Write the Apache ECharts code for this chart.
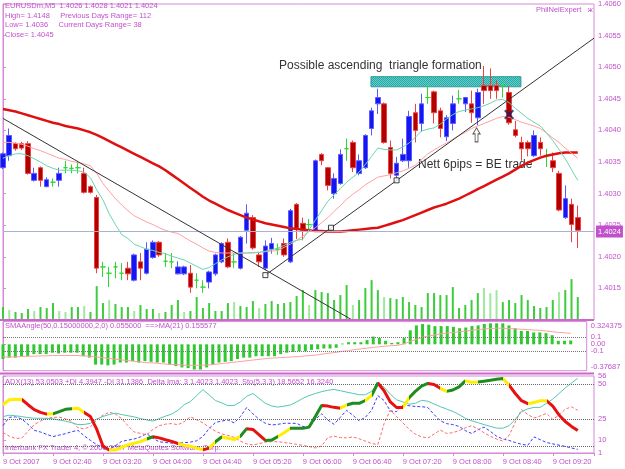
<!DOCTYPE html>
<html>
<head>
<meta charset="utf-8">
<title>EURUSDm,M5</title>
<script src="https://cdn.jsdelivr.net/npm/echarts@6/dist/echarts.min.js"></script>
<style>
html, body { margin: 0; padding: 0; background: #fff; }
#main { width: 625px; height: 469px; }
</style>
</head>
<body>
<div id="main"></div>
<script>
//time axis labels, one every 8 bars (40 minutes of M5)
var timeLabels = ['9 Oct 2007', '9 Oct 02:40', '9 Oct 03:20', '9 Oct 04:00', '9 Oct 04:40', '9 Oct 05:20',
    '9 Oct 06:00', '9 Oct 06:40', '9 Oct 07:20', '9 Oct 08:00', '9 Oct 08:40', '9 Oct 09:20'];

//prices in pips above 1.4000, bar 0 = 02:00
var openPips = [34.1, 36.0, 37.9, 37.9, 37.9, 32.1, 34.1, 31.1, 31.8, 32.1,
    34.1, 34.0, 34.1, 33.2, 31.1, 29.4, 18.4, 17.4, 18.4, 17.4,
    18.2, 16.3, 19.2, 17.4, 19.9, 22.3, 19.3, 19.2, 17.3, 17.3,
    17.4, 16.3, 15.2, 16.0, 17.3, 19.2, 22.3, 19.2, 18.2, 24.2,
    26.2, 20.3, 18.2, 21.2, 21.2, 22.1, 19.2, 28.3, 25.3, 25.1,
    24.2, 36.2, 34.1, 30.0, 31.6, 37.1, 38.1, 33.2, 34.1, 40.3,
    44.2, 44.2, 37.3, 32.9, 35.2, 35.2, 42.8, 41.1, 45.2, 46.1,
    43.1, 39.0, 41.1, 45.0, 44.2, 44.2, 42.0, 47.1, 47.1, 47.1,
    47.1, 46.0, 40.1, 38.1, 38.1, 36.0, 38.1, 36.0, 35.2, 33.2,
    26.2, 28.3, 26.2];
var highPips = [36.5, 40.3, 38.1, 38.2, 38.3, 34.1, 34.3, 32.6, 32.4, 34.1,
    35.2, 34.6, 35.2, 34.1, 31.3, 29.8, 19.2, 18.4, 19.2, 19.0,
    19.2, 20.5, 20.6, 22.3, 22.6, 22.5, 20.6, 20.6, 19.3, 18.6,
    18.7, 17.4, 16.3, 17.8, 20.5, 22.3, 22.9, 20.6, 23.3, 28.3,
    26.6, 20.8, 22.6, 23.0, 22.1, 22.9, 27.6, 28.5, 26.2, 26.0,
    35.4, 36.4, 34.2, 33.2, 37.0, 38.7, 38.4, 36.2, 39.4, 43.6,
    46.6, 44.4, 38.4, 35.8, 38.7, 43.1, 44.2, 45.8, 47.1, 46.3,
    43.6, 42.4, 45.5, 46.4, 45.3, 46.3, 46.6, 50.2, 49.8, 47.9,
    47.3, 47.0, 41.5, 39.0, 38.4, 40.0, 38.9, 37.1, 36.5, 33.6,
    31.3, 29.2, 28.1];
var lowPips = [33.9, 35.2, 36.8, 36.9, 33.0, 31.9, 31.1, 31.0, 31.1, 31.1,
    33.2, 33.2, 33.2, 30.0, 30.0, 17.4, 16.8, 15.2, 16.6, 16.3,
    16.3, 16.1, 16.3, 17.2, 19.7, 20.0, 18.4, 18.2, 17.2, 17.1,
    14.3, 15.0, 14.3, 15.0, 17.0, 19.0, 18.2, 18.2, 18.0, 22.1,
    21.1, 18.4, 17.9, 20.5, 20.3, 20.0, 19.0, 22.8, 22.6, 24.0,
    24.0, 34.5, 30.5, 29.2, 31.4, 35.2, 33.4, 32.9, 33.9, 39.2,
    42.6, 37.9, 32.4, 32.2, 35.0, 34.1, 38.1, 39.8, 44.2, 41.1,
    38.9, 38.3, 40.0, 44.2, 42.9, 41.2, 40.8, 44.2, 45.0, 45.0,
    45.2, 40.9, 38.9, 35.2, 35.9, 35.8, 36.0, 34.2, 33.4, 27.2,
    26.0, 22.3, 21.4];
var closePips = [36.3, 39.2, 37.1, 37.2, 33.2, 33.2, 32.1, 32.2, 31.8, 33.2,
    34.1, 34.0, 34.1, 30.2, 30.2, 18.2, 18.4, 17.4, 18.4, 17.4,
    17.3, 20.3, 18.2, 21.2, 22.3, 20.3, 19.3, 19.2, 18.4, 18.4,
    15.2, 16.3, 15.2, 17.6, 20.3, 22.1, 18.4, 19.2, 23.1, 26.9,
    21.4, 19.2, 21.7, 22.1, 21.2, 20.3, 27.3, 24.5, 24.2, 25.1,
    35.2, 35.2, 31.3, 32.4, 36.2, 37.1, 34.1, 35.2, 39.2, 43.1,
    45.2, 38.1, 33.2, 34.8, 36.2, 42.2, 40.0, 44.2, 45.2, 42.8,
    40.3, 42.0, 44.2, 45.0, 45.2, 42.8, 46.0, 46.3, 46.3, 46.3,
    47.1, 41.2, 39.2, 37.1, 37.1, 39.2, 37.1, 36.0, 34.1, 27.4,
    29.2, 25.1, 24.2];

//moving averages (pips)
var maSlow = [43.4, 43.2, 43.0, 42.7, 42.4, 42.1, 41.8, 41.5, 41.2, 41.0,
    40.7, 40.5, 40.3, 40.0, 39.7, 39.3, 38.8, 38.3, 37.8, 37.3,
    36.8, 36.3, 35.8, 35.3, 34.8, 34.3, 33.7, 33.0, 32.3, 31.6,
    30.9, 30.2, 29.5, 28.9, 28.4, 27.9, 27.4, 27.0, 26.6, 26.2,
    25.9, 25.6, 25.3, 25.1, 24.9, 24.7, 24.5, 24.4, 24.3, 24.2,
    24.1, 24.1, 24.0, 24.0, 24.0, 24.1, 24.2, 24.3, 24.4, 24.5,
    24.6, 24.9, 25.2, 25.5, 25.8, 26.2, 26.6, 27.0, 27.4, 27.8,
    28.1, 28.4, 28.8, 29.2, 29.7, 30.2, 30.7, 31.2, 31.7, 32.2,
    32.7, 33.2, 33.8, 34.4, 34.9, 35.3, 35.7, 36.0, 36.2, 36.4,
    36.5, 36.5, 36.5];
var maMid = [38.1, 38.1, 38.0, 37.8, 37.5, 37.1, 36.8, 36.4, 36.0, 35.6,
    35.4, 35.1, 34.9, 34.7, 34.4, 33.2, 31.6, 30.4, 29.2, 28.2,
    27.3, 26.5, 26.0, 25.5, 25.1, 24.6, 24.2, 23.9, 23.7, 23.1,
    22.5, 22.0, 21.4, 20.9, 20.7, 20.6, 20.6, 20.6, 20.6, 20.6,
    20.7, 20.7, 20.8, 20.9, 21.0, 21.5, 22.0, 22.6, 23.3, 24.0,
    24.6, 25.4, 26.2, 27.2, 28.1, 29.1, 29.9, 30.6, 31.4, 32.0,
    32.6, 32.8, 33.0, 33.3, 33.6, 34.0, 34.5, 35.4, 36.3, 36.9,
    37.5, 38.0, 38.6, 39.2, 39.7, 40.3, 40.7, 41.1, 41.5, 41.9,
    42.2, 42.1, 41.7, 41.3, 41.0, 40.7, 40.3, 39.6, 38.8, 38.1,
    37.2, 36.4, 35.6];
var maFast = [35.6, 36.0, 36.3, 36.3, 36.0, 35.5, 35.0, 34.4, 34.0, 33.7,
    33.7, 33.7, 33.6, 33.4, 32.5, 30.6, 29.0, 26.8, 25.1, 23.5,
    22.9, 22.0, 21.6, 21.2, 21.0, 20.7, 20.5, 20.1, 19.8, 19.5,
    19.0, 18.5, 18.0, 18.3, 18.9, 19.5, 20.0, 20.4, 20.6, 20.6,
    20.6, 20.7, 20.9, 21.1, 21.4, 21.8, 22.3, 22.6, 22.8, 24.3,
    25.8, 27.3, 28.8, 29.8, 30.8, 31.8, 32.6, 33.4, 34.6, 35.9,
    37.2, 37.0, 36.9, 36.9, 37.4, 38.0, 38.9, 39.9, 40.2, 40.4,
    41.0, 41.8, 42.5, 43.0, 43.2, 43.4, 43.6, 43.9, 44.3, 44.8,
    44.9, 44.4, 43.5, 42.7, 41.9, 41.3, 40.7, 39.6, 38.4, 37.0,
    35.5, 33.8, 32.1];

//tick volume
var volumes = [13, 10, 8, 7, 11, 9, 13, 12, 17, 9,
    8, 13, 13, 14, 8, 34, 17, 20, 16, 13,
    13, 9, 15, 11, 11, 7, 8, 15, 20, 8,
    9, 23, 12, 17, 9, 9, 17, 18, 14, 13,
    19, 12, 16, 19, 16, 17, 18, 24, 30, 15,
    30, 28, 27, 20, 25, 35, 15, 20, 32, 40,
    30, 23, 22, 21, 23, 18, 15, 13, 27, 27,
    25, 25, 33, 12, 15, 20, 27, 32, 27, 30,
    18, 20, 17, 25, 20, 14, 12, 13, 20, 28,
    30, 41, 23];
var lightVolumeBars = [1, 5, 9, 10, 13, 17, 21, 25, 29, 37, 41, 49, 56, 61, 77, 78, 79, 89];

//trendlines and marks [bar, pips]
var downTrend = [[0, 41.9], [55.9, 10.0]];
var upTrend = [[42, 17.1], [94.6, 54.6]];
var upTrendAnchors = [[42, 17.1], [52.5, 24.6], [63, 32.1]];
var triangleZone = [[58.9, 48.5], [82.9, 46.9]];
var exitMark = [[81, 42.5]];
var entryArrow = [[75.8, 39.3]];
var lastPrice = 24;

//SMAAngle window
var smaAngle = [-0.21, -0.19, -0.19, -0.17, -0.17, -0.14, -0.14, -0.14, -0.12, -0.13,
    -0.12, -0.12, -0.12, -0.17, -0.19, -0.29, -0.29, -0.30, -0.29, -0.26,
    -0.26, -0.24, -0.26, -0.24, -0.25, -0.26, -0.26, -0.29, -0.31, -0.33,
    -0.34, -0.36, -0.36, -0.33, -0.29, -0.26, -0.25, -0.24, -0.21, -0.19,
    -0.19, -0.17, -0.17, -0.17, -0.17, -0.14, -0.12, -0.11, -0.10, -0.10,
    -0.08, -0.07, -0.06, -0.06, -0.05, 0.01, 0.03, 0.03, 0.03, 0.06,
    0.11, 0.09, 0.05, 0.02, 0.03, 0.09, 0.20, 0.27, 0.29, 0.28,
    0.26, 0.26, 0.26, 0.25, 0.23, 0.24, 0.26, 0.27, 0.29, 0.30,
    0.30, 0.30, 0.27, 0.23, 0.19, 0.19, 0.17, 0.17, 0.16, 0.13,
    0.05, 0.05, 0.055];
var smaAngleMa = [-0.18, -0.18, -0.18, -0.175, -0.17, -0.17, -0.165, -0.165, -0.16, -0.16,
    -0.16, -0.16, -0.16, -0.165, -0.17, -0.18, -0.19, -0.20, -0.21, -0.22,
    -0.23, -0.24, -0.25, -0.26, -0.265, -0.27, -0.28, -0.285, -0.29, -0.295,
    -0.30, -0.30, -0.30, -0.295, -0.29, -0.28, -0.27, -0.26, -0.25, -0.24,
    -0.23, -0.22, -0.21, -0.20, -0.195, -0.19, -0.185, -0.18, -0.175, -0.165,
    -0.16, -0.15, -0.135, -0.125, -0.115, -0.10, -0.09, -0.075, -0.065, -0.055,
    -0.045, -0.035, -0.025, -0.02, -0.015, 0.01, 0.04, 0.07, 0.10, 0.12,
    0.135, 0.15, 0.16, 0.17, 0.18, 0.19, 0.20, 0.21, 0.22, 0.225,
    0.23, 0.23, 0.225, 0.22, 0.215, 0.21, 0.205, 0.20, 0.19, 0.18,
    0.17, 0.165, 0.156];
var smaTicks = [-0.37687, -0.1, 0, 0.1, 0.324375];
var smaTickLabels = ['-0.37687', '-0.1', '0.00', '0.1', '0.324375'];

//ADX / Stochastic window
var stochMain = [35.5, 39, 39.4, 39.2, 35.5, 32, 30, 28.8, 29, 30.5,
    32.2, 32.6, 32.9, 30, 27, 18, 6, 3.1, 3.1, 5,
    6.8, 8, 9.1, 11, 12.6, 11.8, 10.5, 9.3, 7.8, 6.5,
    5.8, 4.5, 3.2, 4.5, 9, 12.4, 11.5, 10.6, 13, 18.4,
    17.8, 14, 10, 10.2, 12.8, 15.5, 18.6, 18.6, 18.6, 19.5,
    27, 35, 34.5, 33.6, 33, 35.3, 36.5, 36.5, 38.5, 42,
    51, 45.5, 37.5, 33.5, 33.5, 40.5, 45, 48.8, 50.7, 50,
    47.2, 45, 46, 48.2, 52.5, 51.5, 51.7, 52.3, 52.9, 53.7,
    54.2, 49.5, 43.5, 38.4, 36.2, 37, 38.4, 38.4, 34.5, 28.2,
    23.5, 20, 17];
//segment colours: Y yellow, G green, R red
var stochColors = 'YYYRRRRYGG' + 'GYYRRRRYYY' + 'YYYGRRRRYY' + 'YYRYGYYYGR' + 'RRGGYYGGGG' +
    'GRRRYGGGYG' + 'RRRRYGGGRR' + 'YGGGYYGGGG' + 'YRRRYYYRRR' + 'RRR';
var adxLine = [27, 28, 27.6, 27, 26.3, 25.8, 25.8, 25.8, 25.4, 24.5,
    23.8, 22.6, 21.3, 21.4, 22.2, 25.3, 27.1, 28.5, 29.4, 28.5,
    27.6, 26.8, 25.6, 24.6, 23.8, 25.5, 27.3, 28.8, 31.5, 35.5,
    37.7, 42, 46.3, 42.5, 38.5, 36.8, 34.8, 35, 37.5, 41.5,
    43.5, 40, 36.5, 34.6, 33.8, 34.5, 35.3, 37.5, 40, 42,
    43.5, 44.8, 45.8, 46.4, 45.5, 44.5, 43.6, 42.6, 42.6, 45,
    51, 48, 43, 39, 37.5, 35.8, 36.5, 38.6, 38, 36,
    34.1, 32.4, 30.7, 28.5, 25.8, 24, 22.7, 21.3, 20, 18.8,
    18.7, 20.5, 25, 30.5, 32.5, 33.6, 33.6, 36.5, 39.5, 43.5,
    47.5, 51, 54.4];
var plusDi = [20.5, 26.5, 26.8, 25.3, 21.5, 17.2, 16, 14.3, 12.7, 13.8,
    14.8, 16.2, 17.2, 13.3, 10, 7, 4.5, 3.6, 6.3, 9.3,
    10.2, 11, 12.5, 14.8, 11.5, 9, 8.5, 8, 8.1, 8.3,
    8.8, 9.7, 12.8, 18.5, 22.8, 23.8, 24.6, 22.5, 27, 33.5,
    29, 25, 22.2, 21, 21.5, 22.2, 22.2, 22.2, 20, 19,
    25, 29, 24.5, 21.5, 26.5, 31.5, 28, 24, 26.5, 31.5,
    42, 38.5, 31, 30.5, 35, 34.8, 34.2, 34.1, 33.5, 28.5,
    24, 22, 21.3, 20, 17, 15, 17.5, 19.5, 16.5, 13,
    11, 10, 8.5, 7.2, 6.5, 12.5, 10.5, 8.5, 7.5, 6.6,
    5.7, 4.6, 3.6];
var minusDi = [15.6, 13, 11.4, 11.6, 16.5, 21.3, 23.8, 25.7, 26.4, 26.6,
    25.4, 23.6, 19, 18.3, 19.8, 24.5, 28, 30.2, 28.7, 25.5,
    20.5, 16, 15, 14, 17.8, 20.5, 21.6, 22, 21.2, 23.3,
    26.9, 24.7, 22.5, 19.4, 16.6, 14.6, 13.6, 12.2, 9.5, 7.5,
    6.7, 7.7, 8.8, 9.1, 9.1, 8.5, 7.9, 7.2, 6.4, 5.6,
    4.6, 6, 12, 13, 12, 11.8, 12.5, 11.2, 9.5, 7.8,
    7, 22, 31.7, 27, 22.5, 18, 14.5, 12.5, 11.7, 14.5,
    17.4, 15, 15.5, 17, 19, 20.5, 18.3, 15.5, 13, 11,
    9.5, 13.5, 23, 32, 28.5, 26, 27.5, 29.3, 25, 28,
    32.3, 34, 31.5];
var adxTicks = [1, 10, 25, 50, 56];
var adxLevels = [50, 25, 6];

//colours
var violet = '#c050cc';
var frameColor = '#d58ad5';
var separatorColor = '#cc66cc';
var smallFont = '7.5px "Liberation Sans", Arial, sans-serif';
var dojiColor = '#2ed82e';
var stochColorMap = { Y: '#ffee00', G: '#1e8c1e', R: '#e81010' };

//[index, value] pairs for value x axis
function pairs(values) {
    return values.map(function (v, i) {
        return [i, v];
    });
}

//dotted teal fill like the MT4 rectangle
function dottedPattern() {
    var c = document.createElement('canvas');
    c.width = 2;
    c.height = 2;
    var ctx = c.getContext('2d');
    ctx.fillStyle = '#62d0cc';
    ctx.fillRect(0, 0, 2, 2);
    ctx.fillStyle = '#2aa5a2';
    ctx.fillRect(0, 0, 1, 1);
    ctx.fillRect(1, 1, 1, 1);
    return c;
}

var candleData = openPips.map(function (o, i) {
    var item = { value: [i, o, closePips[i], lowPips[i], highPips[i]] };
    //open == close drawn as green cross
    if (o === closePips[i]) {
        item.itemStyle = {
            color: dojiColor, color0: dojiColor,
            borderColor: dojiColor, borderColor0: dojiColor, borderColorDoji: dojiColor
        };
    }
    return item;
});

var volumeData = volumes.map(function (v, i) {
    return {
        value: [i, v],
        itemStyle: { color: lightVolumeBars.indexOf(i) >= 0 ? '#9fe89f' : '#3ccc3c' }
    };
});

//visualMap pieces for coloured stochastic
var stochPieces = [];
var runStart = 0;
for (var k = 1; k <= stochColors.length; k++) {
    if (k === stochColors.length || stochColors[k] !== stochColors[runStart]) {
        stochPieces.push({ gte: runStart, lt: k, color: stochColorMap[stochColors[runStart]] });
        runStart = k;
    }
}
stochPieces[0].gte = -1;
stochPieces[stochPieces.length - 1].lt = 100;

function xAxisFor(gridIndex, withLabels) {
    return {
        type: 'value', gridIndex: gridIndex, min: 0, max: 94.6, interval: 8,
        show: withLabels,
        axisLine: { show: withLabels, lineStyle: { color: frameColor } },
        axisTick: { show: withLabels, length: 3, lineStyle: { color: frameColor } },
        splitLine: { show: false },
        axisLabel: {
            show: withLabels, align: 'left', margin: 5, color: violet,
            fontSize: 7.5, fontFamily: 'Liberation Sans',
            formatter: function (v) {
                if (v % 8 !== 0) {
                    return '';
                }
                return timeLabels[v / 8] || '';
            }
        }
    };
}

function rightAxisLabel(extra) {
    return Object.assign({
        color: violet, fontSize: 7.5, fontFamily: 'Liberation Sans', margin: 4
    }, extra);
}

function text(x, y, str, font, fill) {
    return {
        type: 'text', x: x, y: y, silent: true,
        style: { text: str, font: font || smallFont, fill: fill || violet, verticalAlign: 'middle' }
    };
}

//thick window separators
function separator(y) {
    return {
        type: 'rect', silent: true, z: 100,
        shape: { x: 0, y: y, width: 594, height: 2 },
        style: { fill: separatorColor }
    };
}

var option = {
    animation: false,
    backgroundColor: '#ffffff',
    grid: [
        { left: 3, right: 31, top: 3, height: 317, show: true, borderColor: frameColor, borderWidth: 1 },
        { left: 3, right: 31, top: 321.6, height: 49.1, show: true, borderColor: frameColor, borderWidth: 1 },
        { left: 3, right: 31, top: 376, height: 77, show: true, borderColor: frameColor, borderWidth: 1 }
    ],
    xAxis: [xAxisFor(0, false), xAxisFor(1, false), xAxisFor(2, true)],
    yAxis: [
        {
            type: 'value', gridIndex: 0, position: 'right', min: 10, max: 60, interval: 5,
            axisLine: { show: true, lineStyle: { color: frameColor } },
            axisTick: { show: true, length: 3, lineStyle: { color: frameColor } },
            splitLine: { show: false },
            axisLabel: rightAxisLabel({
                showMinLabel: false,
                formatter: function (v) {
                    return (1.4 + v / 10000).toFixed(4);
                }
            })
        },
        { type: 'value', gridIndex: 0, min: 0, max: 317, show: false },
        {
            type: 'value', gridIndex: 1, position: 'right', min: -0.37687, max: 0.324375,
            axisLine: { show: true, lineStyle: { color: frameColor } },
            axisTick: { show: true, length: 3, lineStyle: { color: frameColor }, customValues: smaTicks },
            splitLine: { show: false },
            axisLabel: rightAxisLabel({
                customValues: smaTicks,
                verticalAlignMaxLabel: 'top',
                verticalAlignMinLabel: 'bottom',
                formatter: function (v) {
                    var idx = smaTicks.indexOf(v);
                    return idx >= 0 ? smaTickLabels[idx] : '';
                }
            })
        },
        {
            type: 'value', gridIndex: 2, position: 'right', min: 1, max: 56,
            axisLine: { show: true, lineStyle: { color: frameColor } },
            axisTick: { show: true, length: 3, lineStyle: { color: frameColor }, customValues: adxTicks },
            splitLine: { show: false },
            axisLabel: rightAxisLabel({ customValues: adxTicks })
        }
    ],
    visualMap: [{
        show: false, type: 'piecewise', seriesIndex: 12, dimension: 0, pieces: stochPieces
    }],
    series: [
        //0 volume
        {
            type: 'bar', xAxisIndex: 0, yAxisIndex: 1, data: volumeData, barWidth: 2, z: 1, silent: true
        },
        //1 candles
        {
            type: 'candlestick', xAxisIndex: 0, yAxisIndex: 0, barWidth: 5, z: 3,
            encode: { x: 0, y: [1, 2, 3, 4] },
            data: candleData,
            itemStyle: {
                color: '#1616f2', borderColor: '#5a5aff',
                color0: '#b00000', borderColor0: '#ee4040',
                borderWidth: 1
            },
            markLine: {
                silent: true, symbol: 'none',
                lineStyle: { color: '#a9b3cf', type: 'solid', width: 1 },
                label: {
                    show: true, position: 'end', distance: 2,
                    formatter: (1.4 + lastPrice / 10000).toFixed(4),
                    backgroundColor: '#c050cc', color: '#ffffff',
                    fontSize: 7.5, fontFamily: 'Liberation Sans', padding: [2, 2]
                },
                data: [{ yAxis: lastPrice }]
            },
            markArea: {
                silent: true,
                itemStyle: {
                    color: { image: dottedPattern(), repeat: 'repeat' },
                    borderColor: '#2a9d9a', borderWidth: 1
                },
                data: [[{ coord: triangleZone[0] }, { coord: triangleZone[1] }]]
            }
        },
        //2 slow MA
        {
            type: 'line', xAxisIndex: 0, yAxisIndex: 0, data: pairs(maSlow), showSymbol: false, z: 4,
            lineStyle: { color: '#e01010', width: 2.5 }
        },
        //3 middle MA
        {
            type: 'line', xAxisIndex: 0, yAxisIndex: 0, data: pairs(maMid), showSymbol: false, z: 4,
            lineStyle: { color: '#ffa0a0', width: 1 }
        },
        //4 fast MA
        {
            type: 'line', xAxisIndex: 0, yAxisIndex: 0, data: pairs(maFast), showSymbol: false, z: 4,
            lineStyle: { color: '#6ad6b0', width: 1 }
        },
        //5 falling trendline
        {
            type: 'line', xAxisIndex: 0, yAxisIndex: 0, data: downTrend, showSymbol: false, z: 5,
            lineStyle: { color: '#333333', width: 1 }
        },
        //6 rising trendline
        {
            type: 'line', xAxisIndex: 0, yAxisIndex: 0, data: upTrend, showSymbol: false, z: 5,
            lineStyle: { color: '#333333', width: 1 }
        },
        //7 trendline anchors
        {
            type: 'scatter', xAxisIndex: 0, yAxisIndex: 0, data: upTrendAnchors, symbol: 'rect', symbolSize: 5, z: 6,
            itemStyle: { color: '#ffffff', borderColor: '#111111', borderWidth: 1 }
        },
        //8 exit cross
        {
            type: 'scatter', xAxisIndex: 0, yAxisIndex: 0, data: exitMark, z: 7,
            symbol: 'path://M0,1.5 L1.5,0 L5,3.5 L8.5,0 L10,1.5 L6.5,5 L10,8.5 L8.5,10 L5,6.5 L1.5,10 L0,8.5 L3.5,5 Z',
            symbolSize: 10, itemStyle: { color: '#1c1c60' }
        },
        //9 entry arrow
        {
            type: 'scatter', xAxisIndex: 0, yAxisIndex: 0, data: entryArrow, z: 7,
            symbol: 'path://M5,0 L10,6 L7,6 L7,14 L3,14 L3,6 L0,6 Z',
            symbolSize: [10, 14], symbolKeepAspect: true,
            itemStyle: { color: '#ffffff', borderColor: '#333333', borderWidth: 1 }
        },
        //10 SMAAngle histogram
        {
            type: 'bar', xAxisIndex: 1, yAxisIndex: 2, data: pairs(smaAngle), barWidth: 3, silent: true,
            itemStyle: { color: '#30c830' }
        },
        //11 SMAAngle MA
        {
            type: 'line', xAxisIndex: 1, yAxisIndex: 2, data: pairs(smaAngleMa), showSymbol: false, z: 4,
            lineStyle: { color: '#ffa0a0', width: 1 },
            markLine: {
                silent: true, symbol: 'none', label: { show: false },
                lineStyle: { color: '#777777', type: 'dotted', width: 1 },
                data: [{ yAxis: 0.1 }, { yAxis: -0.1 }]
            }
        },
        //12 stochastic, coloured by visualMap
        {
            type: 'line', xAxisIndex: 2, yAxisIndex: 3, data: pairs(stochMain), showSymbol: false, z: 6,
            lineStyle: { width: 3 }
        },
        //13 ADX
        {
            type: 'line', xAxisIndex: 2, yAxisIndex: 3, data: pairs(adxLine), showSymbol: false, z: 4,
            lineStyle: { color: '#55c6b2', width: 1 },
            markLine: {
                silent: true, symbol: 'none', label: { show: false },
                lineStyle: { color: '#666666', type: 'dotted', width: 1 },
                data: adxLevels.map(function (v) {
                    return { yAxis: v };
                })
            }
        },
        //14 +DI
        {
            type: 'line', xAxisIndex: 2, yAxisIndex: 3, data: pairs(plusDi), showSymbol: false, z: 3,
            lineStyle: { color: '#3a3aff', width: 1, type: [3, 2] }
        },
        //15 -DI
        {
            type: 'line', xAxisIndex: 2, yAxisIndex: 3, data: pairs(minusDi), showSymbol: false, z: 3,
            lineStyle: { color: '#ff6a6a', width: 1, type: [3, 2] }
        }
    ],
    graphic: [
        separator(319),
        separator(372.5),
        text(5, 6, 'EURUSDm,M5  1.4026 1.4028 1.4021 1.4024'),
        text(5, 15.5, 'High= 1.4148     Previous Days Range= 112'),
        text(5, 25, 'Low= 1.4036     Current Days Range= 38'),
        text(5, 34.5, 'Close= 1.4045'),
        text(536, 10, 'PhilNelExpert   ж'),
        text(279, 66, 'Possible ascending  triangle formation', '12px "Liberation Sans", Arial, sans-serif', '#333333'),
        text(418, 165, 'Nett 6pips = BE trade', '12px "Liberation Sans", Arial, sans-serif', '#333333'),
        text(5, 326, 'SMAAngle(50,0.15000000,2,0) 0.055000  ==>MA(21) 0.155577'),
        text(5, 382, 'ADX(13) 53.0503 +DI 4.3947 -DI 31.1386  Delta Ima: 3 1.4023 1.4023  Sto(5,3,3) 18.5652 16.3240'),
        text(5, 448, 'Interbank FX Trader 4, \u00a9 2001-2007 MetaQuotes Software Corp.')
    ]
};

var chart = echarts.init(document.getElementById('main'));
chart.setOption(option);
</script>
</body>
</html>
